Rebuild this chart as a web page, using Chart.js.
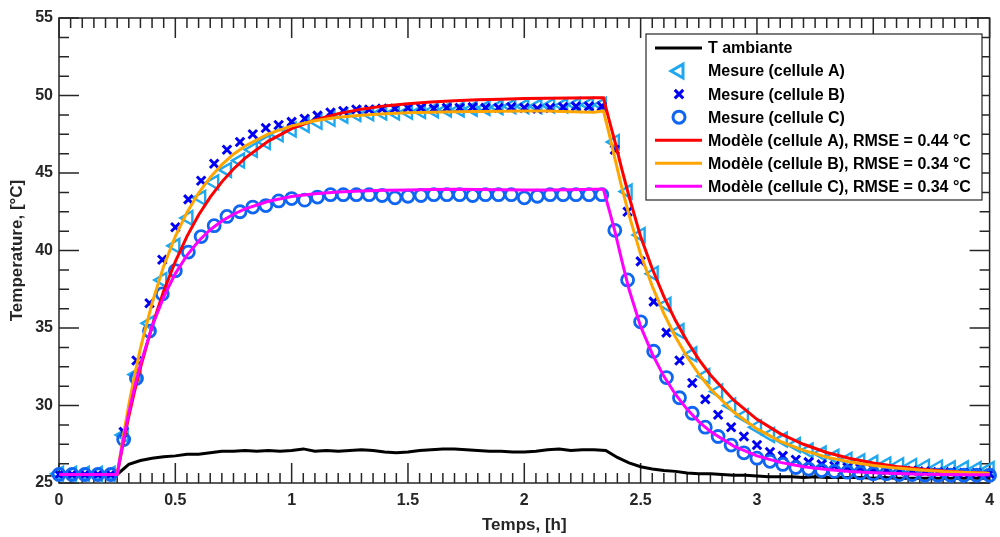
<!DOCTYPE html>
<html lang="fr">
<head>
<meta charset="utf-8">
<title>Température des cellules</title>
<script src="https://cdn.jsdelivr.net/npm/chart.js@4.4.1/dist/chart.umd.min.js"></script>
<style>
    html, body { margin: 0; padding: 0; background: #fff; overflow: hidden; }
    #chart-box { width: 1000px; height: 537px; }
    canvas { display: block; }
</style>
</head>
<body>
<div id="chart-box"><canvas id="tempChart" width="1000" height="537"></canvas></div>
<script>
// Measurement instants (one sample every 200 s), hours
const tMeas = [
    0, 0.056, 0.111, 0.167, 0.222, 0.278, 0.333, 0.389, 0.444, 0.5,
    0.556, 0.611, 0.667, 0.722, 0.778, 0.833, 0.889, 0.944, 1.0,
    1.056, 1.111, 1.167, 1.222, 1.278, 1.333, 1.389, 1.444, 1.5,
    1.556, 1.611, 1.667, 1.722, 1.778, 1.833, 1.889, 1.944, 2.0,
    2.056, 2.111, 2.167, 2.222, 2.278, 2.333, 2.389, 2.444, 2.5,
    2.556, 2.611, 2.667, 2.722, 2.778, 2.833, 2.889, 2.944, 3.0,
    3.056, 3.111, 3.167, 3.222, 3.278, 3.333, 3.389, 3.444, 3.5,
    3.556, 3.611, 3.667, 3.722, 3.778, 3.833, 3.889, 3.944, 4.0
];

const mesureA = [
    25.6, 25.6, 25.6, 25.6, 25.6, 28.1, 32.0, 35.3, 38.1, 40.3,
    42.1, 43.4, 44.4, 45.2, 45.8, 46.5, 47.0, 47.5, 47.8,
    48.1, 48.3, 48.5, 48.7, 48.8, 48.85, 48.9, 48.9, 48.95,
    49.0, 49.05, 49.1, 49.1, 49.15, 49.2, 49.25, 49.3, 49.3,
    49.3, 49.35, 49.35, 49.4, 49.4, 49.4, 47.0, 43.8, 41.0,
    38.5, 36.5, 34.8, 33.3, 31.9, 30.9, 30.0, 29.3, 28.6,
    28.1, 27.8, 27.45, 27.1, 26.9, 26.7, 26.5, 26.4, 26.3,
    26.2, 26.15, 26.1, 26.05, 26.0, 25.95, 25.95, 25.9, 25.9
];

const mesureB = [
    25.55, 25.55, 25.55, 25.55, 25.55, 28.3, 32.9, 36.6, 39.4, 41.5,
    43.3, 44.5, 45.6, 46.5, 47.0, 47.5, 47.9, 48.1, 48.3,
    48.5, 48.7, 48.9, 49.0, 49.1, 49.1, 49.15, 49.15, 49.2,
    49.2, 49.15, 49.2, 49.2, 49.25, 49.2, 49.2, 49.25, 49.2,
    49.15, 49.2, 49.25, 49.3, 49.3, 49.3, 46.5, 42.5, 39.3,
    36.7, 34.7, 32.9, 31.45, 30.4, 29.4, 28.6, 28.0, 27.45,
    27.0, 26.75, 26.5, 26.35, 26.2, 26.1, 26.0, 25.95, 25.9,
    25.85, 25.8, 25.8, 25.75, 25.7, 25.7, 25.65, 25.65, 25.6
];

const mesureC = [
    25.55, 25.55, 25.55, 25.55, 25.55, 27.8, 31.75, 34.8, 37.2, 38.7,
    39.9, 40.9, 41.6, 42.2, 42.5, 42.8, 42.9, 43.2, 43.35,
    43.25, 43.45, 43.6, 43.6, 43.6, 43.6, 43.55, 43.4, 43.5,
    43.55, 43.6, 43.6, 43.6, 43.55, 43.6, 43.6, 43.6, 43.4,
    43.5, 43.6, 43.6, 43.6, 43.6, 43.6, 41.3, 38.1, 35.4,
    33.5, 31.8, 30.5, 29.5, 28.6, 28.0, 27.45, 26.95, 26.6,
    26.4, 26.2, 26.0, 25.9, 25.8, 25.75, 25.7, 25.65, 25.6,
    25.6, 25.55, 25.55, 25.5, 25.5, 25.5, 25.5, 25.5, 25.5
];

// Model outputs, hours
const tModel = [
    0, 0.25, 0.275, 0.3, 0.325, 0.35, 0.4, 0.45, 0.5, 0.55, 0.6, 0.65, 0.7, 0.75, 0.8,
    0.9, 1.0, 1.1, 1.2, 1.3, 1.4, 1.5, 1.6, 1.7, 1.8, 1.9, 2.0, 2.1, 2.2, 2.3, 2.34,
    2.365, 2.39, 2.42, 2.45, 2.5, 2.55, 2.6, 2.65, 2.7, 2.75, 2.8,
    2.9, 3.0, 3.1, 3.2, 3.3, 3.4, 3.5, 3.6, 3.7, 3.8, 3.9, 4.0
];

const modeleA = [
    25.55, 25.55, 27.49, 29.29, 30.92, 32.43, 35.11, 37.38, 39.29, 40.91, 42.29, 43.44, 44.43, 45.26, 45.96,
    47.06, 47.86, 48.42, 48.83, 49.12, 49.33, 49.47, 49.58, 49.66, 49.72, 49.76, 49.8, 49.82, 49.84, 49.85, 49.85,
    48.4, 47.0, 45.2, 43.5, 40.9, 38.82, 37.03, 35.48, 34.14, 32.98, 31.97,
    30.34, 29.11, 28.19, 27.5, 26.97, 26.58, 26.29, 26.07, 25.9, 25.78, 25.68, 25.61
];

const modeleB = [
    25.55, 25.55, 27.92, 30.05, 31.96, 33.68, 36.61, 38.99, 40.91, 42.46, 43.71, 44.72, 45.54, 46.21, 46.74,
    47.52, 48.04, 48.37, 48.59, 48.73, 48.82, 48.88, 48.92, 48.95, 48.97, 48.98, 49.0, 49.0, 48.95, 48.92, 49.0,
    47.5, 45.9, 44.0, 42.3, 39.75, 37.69, 35.93, 34.42, 33.13, 32.03, 31.08,
    29.58, 28.49, 27.69, 27.1, 26.67, 26.36, 26.13, 25.96, 25.84, 25.74, 25.68, 25.63
];

const modeleC = [
    25.55, 25.55, 27.66, 29.53, 31.19, 32.65, 35.1, 37.01, 38.51, 39.69, 40.61, 41.34, 41.9, 42.34, 42.69,
    43.18, 43.48, 43.66, 43.77, 43.84, 43.88, 43.9, 43.93, 43.95, 43.93, 43.92, 43.9, 43.9, 43.92, 43.95, 43.95,
    42.6, 41.2, 39.3, 37.5, 35.1, 33.33, 31.88, 30.71, 29.75, 28.96, 28.32,
    27.38, 26.75, 26.33, 26.05, 25.87, 25.74, 25.66, 25.61, 25.57, 25.55, 25.54, 25.53
];

// Ambient temperature, every 0.05 h
const tAmb = [
    0, 0.05, 0.1, 0.15, 0.2, 0.25, 0.3, 0.35, 0.4, 0.45,
    0.5, 0.55, 0.6, 0.65, 0.7, 0.75, 0.8, 0.85, 0.9, 0.95,
    1.0, 1.05, 1.1, 1.15, 1.2, 1.25, 1.3, 1.35, 1.4, 1.45,
    1.5, 1.55, 1.6, 1.65, 1.7, 1.75, 1.8, 1.85, 1.9, 1.95,
    2.0, 2.05, 2.1, 2.15, 2.2, 2.25, 2.3, 2.35, 2.4, 2.45,
    2.5, 2.55, 2.6, 2.65, 2.7, 2.75, 2.8, 2.85, 2.9, 2.95,
    3.0, 3.05, 3.1, 3.15, 3.2, 3.25, 3.3, 3.35, 3.4, 3.45,
    3.5, 3.55, 3.6, 3.65, 3.7, 3.75, 3.8, 3.85, 3.9, 3.95, 4.0
];

const tAmbiante = [
    25.5, 25.5, 25.5, 25.5, 25.5, 25.55, 26.2, 26.45, 26.6, 26.7,
    26.75, 26.85, 26.85, 26.95, 27.05, 27.05, 27.1, 27.05, 27.1, 27.05,
    27.1, 27.2, 27.05, 27.1, 27.05, 27.1, 27.15, 27.1, 27.0, 26.95,
    27.0, 27.1, 27.15, 27.2, 27.2, 27.15, 27.1, 27.05, 27.05, 27.0,
    27.0, 27.05, 27.15, 27.2, 27.1, 27.15, 27.15, 27.1, 26.65, 26.3,
    26.05, 25.9, 25.8, 25.75, 25.65, 25.6, 25.6, 25.55, 25.5, 25.5,
    25.45, 25.4, 25.4, 25.4, 25.35, 25.4, 25.35, 25.35, 25.35, 25.35,
    25.3, 25.35, 25.3, 25.3, 25.3, 25.3, 25.3, 25.3, 25.3, 25.3, 25.3
];

const xTicks = [0, 0.5, 1, 1.5, 2, 2.5, 3, 3.5, 4];
const yTicks = [25, 30, 35, 40, 45, 50, 55];

const AXIS_COLOR = "#262626";
const FONT = '"Liberation Sans", Arial, Helvetica, sans-serif';

Chart.defaults.font.family = FONT;

function toPoints(xs, ys) {
    return xs.map((x, i) => ({ x: x, y: ys[i] }));
}

// MATLAB-like box: inward ticks on all four sides, minor ticks included
const axesBox = {
    id: "axesBox",
    beforeDatasetsDraw(chart) {
        const { ctx, chartArea: a, scales: { x, y } } = chart;
        ctx.save();
        ctx.strokeStyle = AXIS_COLOR;
        ctx.lineWidth = 1.5;
        ctx.beginPath();

        for (let i = 0; i <= 80; i++) {
            const px = x.getPixelForValue(i * 0.05);
            const len = i % 10 === 0 ? 20 : 10;
            ctx.moveTo(px, a.bottom);
            ctx.lineTo(px, a.bottom - len);
            ctx.moveTo(px, a.top);
            ctx.lineTo(px, a.top + len);
        }
        for (let i = 0; i <= 24; i++) {
            const py = y.getPixelForValue(25 + i * 1.25);
            const len = i % 4 === 0 ? 20 : 10;
            ctx.moveTo(a.left, py);
            ctx.lineTo(a.left + len, py);
            ctx.moveTo(a.right, py);
            ctx.lineTo(a.right - len, py);
        }
        ctx.stroke();
        ctx.strokeRect(a.left, a.top, a.right - a.left, a.bottom - a.top);
        ctx.restore();
    },
    afterDraw(chart) {
        const { ctx, chartArea: a, scales: { x } } = chart;
        ctx.save();
        ctx.fillStyle = AXIS_COLOR;

        // x tick labels (drawn here so they don't shrink the plot box)
        ctx.font = "bold 16px " + FONT;
        ctx.textAlign = "center";
        ctx.textBaseline = "top";
        xTicks.forEach(v => ctx.fillText(String(v), x.getPixelForValue(v), a.bottom + 10));

        ctx.font = "bold 17px " + FONT;
        ctx.textBaseline = "middle";
        ctx.fillText("Temps, [h]", (a.left + a.right) / 2, 525);

        ctx.translate(17, (a.top + a.bottom) / 2);
        ctx.rotate(-Math.PI / 2);
        ctx.fillText("Temperature, [°C]", 0, 0);
        ctx.restore();
    }
};

// Boxed legend in the upper right corner, built from the datasets
const boxLegend = {
    id: "boxLegend",
    afterDraw(chart) {
        const ctx = chart.ctx;
        const left = 646, top = 34, right = 982, bottom = 200;
        const rowH = 23.05;

        ctx.save();
        ctx.fillStyle = "#fff";
        ctx.fillRect(left, top, right - left, bottom - top);
        ctx.strokeStyle = AXIS_COLOR;
        ctx.lineWidth = 1.2;
        ctx.strokeRect(left, top, right - left, bottom - top);

        chart.data.datasets.forEach((ds, i) => {
            const cy = top + 14 + i * rowH;
            if (ds.showLine) {
                ctx.strokeStyle = ds.borderColor;
                ctx.lineWidth = 3;
                ctx.beginPath();
                ctx.moveTo(655, cy);
                ctx.lineTo(702, cy);
                ctx.stroke();
            } else {
                ctx.strokeStyle = ds.pointBorderColor;
                ctx.fillStyle = "rgba(0,0,0,0)";
                Chart.helpers.drawPoint(ctx, {
                    pointStyle: ds.pointStyle,
                    rotation: ds.pointRotation || 0,
                    radius: ds.pointRadius,
                    borderWidth: ds.pointBorderWidth
                }, 679, cy);
            }
            ctx.fillStyle = "#000";
            ctx.font = "bold 16px " + FONT;
            ctx.textAlign = "left";
            ctx.textBaseline = "middle";
            ctx.fillText(ds.label, 708, cy + 1);
        });
        ctx.restore();
    }
};

function lineSet(label, xs, ys, color, width, order) {
    return {
        label: label,
        data: toPoints(xs, ys),
        showLine: true,
        borderColor: color,
        borderWidth: width,
        pointRadius: 0,
        fill: false,
        clip: false,
        order: order
    };
}

function markerSet(label, ys, color, style, radius, width, rotation, order) {
    return {
        label: label,
        data: toPoints(tMeas, ys),
        showLine: false,
        pointStyle: style,
        pointRadius: radius,
        pointRotation: rotation,
        pointBorderWidth: width,
        pointBorderColor: color,
        pointBackgroundColor: "rgba(0,0,0,0)",
        clip: false,
        order: order
    };
}

document.addEventListener("DOMContentLoaded", function () {
    const ctx = document.getElementById("tempChart").getContext("2d");

    // legend order = array order; "order" sets what is drawn on top (0 = top)
    const datasets = [
        lineSet("T ambiante", tAmb, tAmbiante, "#000000", 3, 6),
        markerSet("Mesure (cellule A)", mesureA, "#1FA8F0", "triangle", 8, 2.4, -90, 5),
        markerSet("Mesure (cellule B)", mesureB, "#0000F5", "crossRot", 6, 3, 0, 4),
        markerSet("Mesure (cellule C)", mesureC, "#0F66F2", "circle", 6, 2.8, 0, 3),
        lineSet("Modèle (cellule A), RMSE = 0.44 °C", tModel, modeleA, "#FF0000", 3, 2),
        lineSet("Modèle (cellule B), RMSE = 0.34 °C", tModel, modeleB, "#FFA500", 3, 1),
        lineSet("Modèle (cellule C), RMSE = 0.34 °C", tModel, modeleC, "#FF00FF", 3, 0)
    ];

    const tickFont = { family: FONT, size: 16, weight: "bold" };

    new Chart(ctx, {
        type: "scatter",
        data: { datasets: datasets },
        options: {
            responsive: false,
            animation: false,
            events: [],
            layout: { padding: { top: 18, right: 3, left: 0, bottom: 0 } },
            plugins: {
                legend: { display: false },
                tooltip: { enabled: false }
            },
            scales: {
                x: {
                    type: "linear",
                    min: 0,
                    max: 4,
                    afterBuildTicks: scale => { scale.ticks = xTicks.map(v => ({ value: v })); },
                    afterFit: scale => { scale.height = 54; },
                    ticks: { display: false },
                    grid: { display: false, drawTicks: false },
                    border: { display: false }
                },
                y: {
                    type: "linear",
                    min: 25,
                    max: 55,
                    afterBuildTicks: scale => { scale.ticks = yTicks.map(v => ({ value: v })); },
                    afterFit: scale => { scale.width = 59; },
                    ticks: { color: AXIS_COLOR, font: tickFont, padding: 6, callback: value => String(value) },
                    grid: { display: false, drawTicks: false },
                    border: { display: false }
                }
            }
        },
        plugins: [axesBox, boxLegend]
    });
});
</script>
</body>
</html>
